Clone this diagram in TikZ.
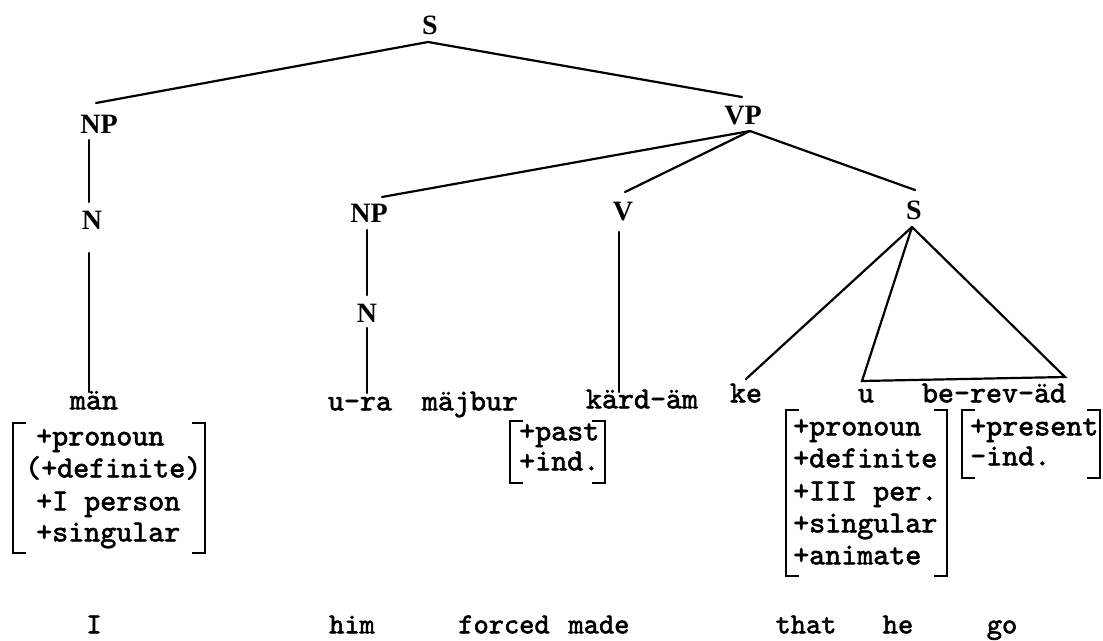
\documentclass[tikz,border=0pt]{standalone}
\usepackage{fontspec}
\setmainfont{Liberation Serif}
\newfontfamily\tw{lmmono10-regular.otf}[FakeBold=2]
\newcommand\mylbr[3]{\draw[brk] (#1,#2) ++(13,0) -- ++(-13,0) -- (#1,#3) -- ++(13,0);}
\newcommand\myrbr[3]{\draw[brk] (#1,#2) ++(-13,0) -- ++(13,0) -- (#1,#3) -- ++(-13,0);}
\tikzset{
  lab/.style={font=\fontsize{28}{28}\selectfont\bfseries, inner sep=0pt},
  tw/.style={font=\tw\fontsize{30.5}{32}\selectfont, inner sep=0pt},
  feat/.style={tw, anchor=mid west},
  word/.style={tw, anchor=mid},
  gloss/.style={font=\tw\fontsize{29}{30}\selectfont, inner sep=0pt, anchor=mid},
  edge/.style={line width=2.2pt, line cap=round},
  brk/.style={line width=1.8pt}
}
\begin{document}
\begin{tikzpicture}[x=1pt,y=-1pt]
\useasboundingbox (0,0) rectangle (1103,640);
% tree labels
\node[lab] (S1) at (430,25) {S};
\node[lab] (NP1) at (99,124) {NP};
\node[lab] (N1) at (92,220) {N};
\node[lab] (VP) at (743,116) {VP};
\node[lab] (NP2) at (369,213) {NP};
\node[lab] (N2) at (367,313) {N};
\node[lab] (V) at (623,212) {V};
\node[lab] (S2) at (914,210) {S};
% words
\node[word] (man) at (94,407) {män};
\node[word] (ura) at (360,408) {u-ra};
\node[word] (majbur) at (470,408) {mäjbur};
\node[word] (kardam) at (642,406) {kärd-äm};
\node[word] (ke) at (746,400) {ke};
\node[word] (u) at (866,400) {u};
\node[word] (berevad) at (994,400) {be-rev-äd};
% connector end points
\coordinate (S1b) at (428,42);
\coordinate (NP1t) at (96,103);
\coordinate (VPt) at (742,97);
\coordinate (NP1b) at (89,140);
\coordinate (N1t) at (89,202);
\coordinate (N1b) at (89,253);
\coordinate (mant) at (89,392);
\coordinate (VPb) at (750,131);
\coordinate (NP2t) at (382,197);
\coordinate (Vt) at (625,192);
\coordinate (S2t) at (915,190);
\coordinate (NP2b) at (367,230);
\coordinate (N2t) at (367,295);
\coordinate (N2b) at (367,328);
\coordinate (urat) at (367,393);
\coordinate (Vb) at (619,232);
\coordinate (kardt) at (619,392);
\coordinate (S2b) at (912,227);
\coordinate (ket) at (746,379);
\coordinate (ut) at (862,381);
\coordinate (bet) at (1065,377);
% connectors
\draw[edge] (NP1t) -- (S1b) -- (VPt);
\draw[edge] (NP1b) -- (N1t);
\draw[edge] (N1b) -- (mant);
\draw[edge] (VPb) -- (NP2t);
\draw[edge] (VPb) -- (Vt);
\draw[edge] (VPb) -- (S2t);
\draw[edge] (NP2b) -- (N2t);
\draw[edge] (N2b) -- (urat);
\draw[edge] (Vb) -- (kardt);
\draw[edge] (S2b) -- (ket);
\draw[edge] (S2b) -- (ut) -- (bet) -- (S2b);
% feature box 1
\node[feat] (f1a) at (36,443) {+pronoun};
\node[feat] (f1b) at (25,475) {(+definite)};
\node[feat] (f1c) at (36,508) {+I person};
\node[feat] (f1d) at (36,539) {+singular};
\mylbr{13}{423}{553}
\myrbr{205}{423}{553}
% feature box 2
\node[feat] (f2a) at (519,438) {+past};
\node[feat] (f2b) at (519,468) {+ind.};
\mylbr{510}{421}{483}
\myrbr{605}{421}{483}
% feature box 3
\node[feat] (f3a) at (793,433) {+pronoun};
\node[feat] (f3b) at (793,465) {+definite};
\node[feat] (f3c) at (793,498) {+III per.};
\node[feat] (f3d) at (793,530) {+singular};
\node[feat] (f3e) at (793,562) {+animate};
\mylbr{786}{410}{576}
\myrbr{947}{410}{576}
% feature box 4
\node[feat] (f4a) at (970,433) {+present};
\node[feat] (f4b) at (970,463) {-ind.};
\mylbr{962}{410}{478}
\myrbr{1100}{410}{478}
% glosses
\node[gloss] (gI) at (94,631) {I};
\node[gloss] (ghim) at (352,631) {him};
\node[gloss] (gforced) at (504,631) {forced};
\node[gloss] (gmade) at (599,631) {made};
\node[gloss] (gthat) at (806,631) {that};
\node[gloss] (ghe) at (898,631) {he};
\node[gloss] (ggo) at (1002,631) {go};
\end{tikzpicture}
\end{document}
